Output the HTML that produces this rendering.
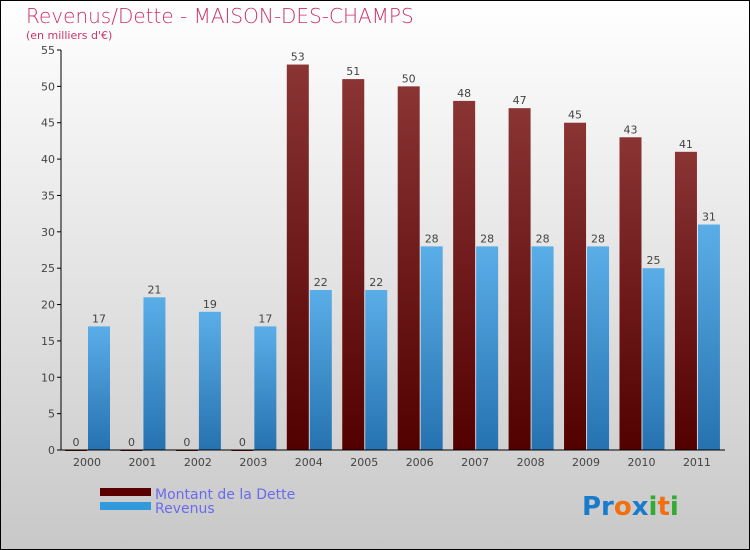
<!DOCTYPE html>
<html><head><meta charset="utf-8"><style>
body{margin:0}
svg{display:block;font-family:"DejaVu Sans","Liberation Sans",sans-serif}
</style></head><body>
<svg id="c" width="750" height="550" xmlns="http://www.w3.org/2000/svg">
<defs>
<linearGradient id="bg" x1="0" y1="0" x2="0" y2="1"><stop offset="0" stop-color="#ffffff"/><stop offset="1" stop-color="#c8c8c8"/></linearGradient>
<linearGradient id="gd" x1="0" y1="0" x2="0" y2="1"><stop offset="0" stop-color="#8a3434"/><stop offset="1" stop-color="#520000"/></linearGradient>
<linearGradient id="gr" x1="0" y1="0" x2="0" y2="1"><stop offset="0" stop-color="#5aaee8"/><stop offset="1" stop-color="#2672b0"/></linearGradient>
</defs>
<rect x="0.5" y="0.5" width="749" height="549" fill="url(#bg)" stroke="#000"/>
<text x="26" y="23" font-size="20" fill="#cc3366" style="font-weight:200">Revenus/Dette - MAISON-DES-CHAMPS</text>
<text x="26" y="39" font-size="11" fill="#cc3366">(en milliers d'€)</text>
<g id="plot"></g>
<g>
<rect x="100" y="488" width="51" height="8" fill="#5a0000"/>
<rect x="100" y="502" width="51" height="8" fill="#3399dd"/>
<text x="155" y="499" font-size="14" fill="#6a6aee">Montant de la Dette</text>
<text x="155" y="513" font-size="14" fill="#6a6aee">Revenus</text>
</g>
<text x="582" y="515" font-size="26" font-weight="bold"><tspan fill="#1a7acc">Pr</tspan><tspan fill="#f07010">o</tspan><tspan fill="#1a7acc">x</tspan><tspan fill="#33aa33">i</tspan><tspan fill="#f07010">t</tspan><tspan fill="#33aa33">i</tspan></text>
</svg>
<script>
const categories=["2000","2001","2002","2003","2004","2005","2006","2007","2008","2009","2010","2011"];
const detteValues=[0,0,0,0,53,51,50,48,47,45,43,41];
const revenusValues=[17,21,19,17,22,22,28,28,28,28,25,31];
const yTicks=[0,5,10,15,20,25,30,35,40,45,50,55];
const NS="http://www.w3.org/2000/svg";
const g=document.getElementById("plot");
const x0=61,yBase=450,yTop=50,yMax=55,step=55.45,firstC=87;
const y=v=>yBase-(v/yMax)*(yBase-yTop);
const xc=i=>firstC+i*step;
function mk(t,a){const e=document.createElementNS(NS,t);for(const k in a)e.setAttribute(k,a[k]);g.appendChild(e);return e;}
yTicks.forEach(t=>{
  const l=mk("line",{x1:x0-4,x2:x0,y1:y(t),y2:y(t),stroke:"#000"});
  
  
  const tx=mk("text",{x:x0-6,y:y(t)+4,"font-size":11,fill:"#444","text-anchor":"end"});
  tx.textContent=t;
  
  
});
categories.forEach((c,i)=>{
  const cx=xc(i);
  const hd=yBase-y(detteValues[i]);
  const b1=mk("rect",{x:cx-22,y:y(detteValues[i]),width:22,height:Math.max(hd,1),fill:"url(#gd)"});
  
  
  const b2=mk("rect",{x:cx+1,y:y(revenusValues[i]),width:22,height:yBase-y(revenusValues[i]),fill:"url(#gr)"});
  
  
  const l1=mk("text",{x:cx-11,y:y(detteValues[i])-4,"font-size":11,fill:"#444","text-anchor":"middle"});
  l1.textContent=detteValues[i];
  
  
  const l2=mk("text",{x:cx+12,y:y(revenusValues[i])-4,"font-size":11,fill:"#444","text-anchor":"middle"});
  l2.textContent=revenusValues[i];
  
  
  const xl=mk("text",{x:cx,y:466,"font-size":11,fill:"#444","text-anchor":"middle"});
  xl.textContent=c;
  
  
});
const ya=mk("line",{x1:x0,x2:x0,y1:yTop,y2:yBase,stroke:"#000"});


const xa=mk("line",{x1:x0,x2:725,y1:yBase,y2:yBase,stroke:"#000"});


</script>
</body></html>
